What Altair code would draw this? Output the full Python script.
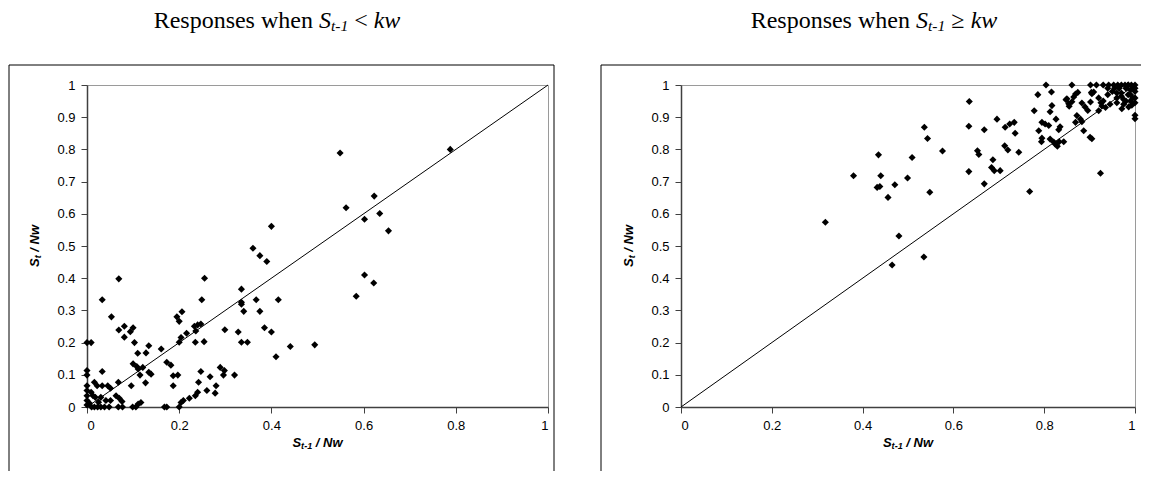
import altair as alt
import pandas as pd

# ---------------- data ----------------
left_x = [0.788, 0.549, 0.623, 0.562, 0.635, 0.602, 0.654, 0.602, 0.622, 0.584,
          0.400, 0.360, 0.375, 0.390, 0.255, 0.335, 0.249, 0.335, 0.335, 0.367,
          0.415, 0.340, 0.375, 0.299, 0.328, 0.385, 0.400, 0.254, 0.335, 0.348,
          0.441, 0.494, 0.247, 0.410, 0.069, 0.033, 0.053, 0.195, 0.206, 0.200,
          0.069, 0.081, 0.094, 0.100, 0.081, 0.233, 0.240, 0.236, 0.216, 0.204,
          0.000, 0.009, 0.200, 0.235, 0.103, 0.110, 0.134, 0.121, 0.108, 0.111,
          0.100, 0.115, 0.128, 0.134, 0.139, 0.127, 0.161, 0.173, 0.182, 0.187,
          0.197, 0.187, 0.096, 0.033, 0.000, 0.000, 0.000, 0.000, 0.000, 0.000,
          0.000, 0.016, 0.022, 0.009, 0.013, 0.018, 0.033, 0.045, 0.051, 0.068,
          0.041, 0.051, 0.063, 0.070, 0.076, 0.016, 0.023, 0.030, 0.038, 0.048,
          0.068, 0.077, 0.099, 0.106, 0.117, 0.111, 0.168, 0.173, 0.200, 0.204,
          0.209, 0.222, 0.235, 0.240, 0.242, 0.247, 0.260, 0.267, 0.280, 0.278,
          0.289, 0.298, 0.296, 0.320, 0.005, 0.010, 0.025, 0.030]
left_y = [0.800, 0.789, 0.655, 0.619, 0.601, 0.583, 0.547, 0.410, 0.385, 0.344,
          0.561, 0.493, 0.470, 0.452, 0.400, 0.366, 0.333, 0.325, 0.319, 0.333,
          0.333, 0.297, 0.297, 0.240, 0.233, 0.246, 0.233, 0.203, 0.201, 0.201,
          0.188, 0.193, 0.258, 0.156, 0.398, 0.333, 0.280, 0.280, 0.296, 0.266,
          0.239, 0.251, 0.234, 0.246, 0.217, 0.251, 0.255, 0.236, 0.229, 0.216,
          0.200, 0.200, 0.201, 0.201, 0.200, 0.167, 0.190, 0.123, 0.126, 0.118,
          0.134, 0.099, 0.168, 0.108, 0.102, 0.075, 0.180, 0.139, 0.130, 0.097,
          0.099, 0.066, 0.066, 0.110, 0.113, 0.099, 0.066, 0.051, 0.035, 0.020,
          0.006, 0.077, 0.066, 0.046, 0.035, 0.030, 0.066, 0.066, 0.058, 0.077,
          0.020, 0.020, 0.035, 0.027, 0.017, 0.000, 0.000, 0.000, 0.000, 0.000,
          0.000, 0.000, 0.000, 0.000, 0.014, 0.009, 0.000, 0.000, 0.000, 0.014,
          0.020, 0.027, 0.035, 0.046, 0.077, 0.110, 0.051, 0.094, 0.066, 0.043,
          0.123, 0.113, 0.099, 0.099, 0.012, 0.000, 0.015, 0.030]

right_x = [0.318, 0.380, 0.435, 0.440, 0.432, 0.438, 0.456, 0.471, 0.499, 0.509,
           0.548, 0.536, 0.543, 0.576, 0.635, 0.634, 0.668, 0.696, 0.634, 0.653,
           0.656, 0.687, 0.684, 0.690, 0.703, 0.668, 0.714, 0.724, 0.734, 0.736,
           0.713, 0.720, 0.744, 0.768, 0.778, 0.786, 0.788, 0.794, 0.795, 0.795,
           0.802, 0.810, 0.804, 0.817, 0.813, 0.826, 0.813, 0.824, 0.833, 0.843,
           0.829, 0.832, 0.855, 0.861, 0.869, 0.874, 0.850, 0.861, 0.872, 0.880,
           0.883, 0.869, 0.887, 0.901, 0.924, 0.465, 0.535, 0.480,
           0.902, 0.915, 0.930, 0.942, 0.953, 0.962, 0.970, 0.978, 0.985, 0.992, 1.000,
           0.816, 0.904, 0.909, 0.905, 0.883, 0.890, 0.896, 0.902, 0.848, 0.854,
           0.865, 0.835, 0.821, 0.905, 0.971, 0.986, 0.993, 1.000, 1.000,
           0.920, 0.930, 0.940, 0.950, 0.960, 0.965, 0.970, 0.975, 0.980, 0.985,
           0.990, 0.995, 1.000, 1.000, 1.000, 0.990, 0.975, 0.960, 0.945, 0.935,
           0.925, 0.955, 0.940, 0.985, 0.995, 0.970, 0.980, 1.000, 0.990, 0.960,
           0.920, 0.927]
right_y = [0.574, 0.718, 0.783, 0.718, 0.682, 0.685, 0.651, 0.690, 0.711, 0.775,
           0.667, 0.869, 0.834, 0.795, 0.949, 0.872, 0.861, 0.894, 0.731, 0.796,
           0.784, 0.768, 0.744, 0.734, 0.734, 0.693, 0.869, 0.879, 0.884, 0.850,
           0.811, 0.798, 0.791, 0.669, 0.920, 0.970, 0.858, 0.824, 0.835, 0.884,
           0.879, 0.874, 1.000, 0.936, 0.917, 0.894, 0.832, 0.817, 0.824, 0.824,
           0.810, 0.861, 0.934, 0.948, 0.972, 0.977, 0.957, 1.000, 0.905, 0.894,
           0.886, 0.884, 0.858, 0.838, 0.726, 0.441, 0.466, 0.531,
           1.000, 1.000, 1.000, 1.000, 1.000, 1.000, 1.000, 1.000, 1.000, 1.000, 1.000,
           0.978, 0.977, 0.978, 0.973, 0.944, 0.932, 0.921, 0.947, 0.954, 0.942,
           0.963, 0.870, 0.823, 0.833, 0.926, 0.932, 0.937, 0.906, 0.895,
           0.960, 0.950, 0.970, 0.980, 0.960, 0.990, 0.975, 0.955, 0.990, 0.970,
           0.985, 0.960, 0.980, 0.960, 0.990, 0.950, 0.940, 0.945, 0.940, 0.930,
           0.945, 0.990, 0.990, 1.000, 0.995, 0.965, 0.950, 0.945, 0.970, 0.975,
           0.920, 0.935]

diag_x = [0, 1]
diag_y = [0, 1]

x_ticks = [0, 0.2, 0.4, 0.6, 0.8, 1]
y_ticks = [0, 0.1, 0.2, 0.3, 0.4, 0.5, 0.6, 0.7, 0.8, 0.9, 1]

AX = "#404040"
SANS = "Liberation Sans"
SERIF = "Liberation Serif"
one = alt.Data(values=[{}])


def txt(s, x, y, font, size, style="normal", weight="normal", align="left", angle=0):
    kw = dict(text=s, font=font, fontSize=size, fontStyle=style, fontWeight=weight,
              align=align, baseline="middle", color="black")
    if angle:
        kw["angle"] = angle
    return alt.Chart(one).mark_text(**kw).encode(x=alt.value(x), y=alt.value(y))


def title_parts(cx, cy, rel, fs=24):
    # "Responses when S_{t-1} < kw" built from pieces
    sub = fs * 0.65
    w_main = 6.638 * fs
    w_sp = 0.25 * fs
    w_S = 0.5 * fs
    w_sub = 1.111 * sub
    w_rel = 0.56 * fs
    w_kw = 1.111 * fs
    total = w_main + w_sp + w_S + w_sub + w_sp + w_rel + w_sp + w_kw
    x0 = cx - total / 2
    parts = []
    parts.append(txt("Responses when", x0, cy, SERIF, fs))
    x = x0 + w_main + w_sp
    parts.append(txt("S", x, cy, SERIF, fs, style="italic"))
    x += w_S
    parts.append(txt("t-1", x, cy + fs * 0.22, SERIF, sub, style="italic"))
    x += w_sub + w_sp
    parts.append(txt(rel, x, cy, SERIF, fs))
    x += w_rel + w_sp
    parts.append(txt("kw", x, cy, SERIF, fs, style="italic"))
    return parts


def xtitle(cx, cy, fs=13):
    sub = fs * 0.7
    wS = 0.667 * fs
    wsub = 1.222 * sub
    wsp = 0.278 * fs
    wrest = 2.056 * fs
    total = wS + wsub + wsp + wrest
    x0 = cx - total / 2
    return [
        txt("S", x0, cy, SANS, fs, style="italic", weight="bold"),
        txt("t-1", x0 + wS, cy + fs * 0.25, SANS, sub, style="italic", weight="bold"),
        txt("/ Nw", x0 + wS + wsub + wsp, cy, SANS, fs, style="italic", weight="bold"),
    ]


def ytitle(cx, cy, fs=13):
    sub = fs * 0.7
    wS = 0.667 * fs
    wsub = 0.333 * sub
    wsp = 0.278 * fs
    wrest = 2.056 * fs
    total = wS + wsub + wsp + wrest
    y0 = cy + total / 2
    return [
        txt("S", cx, y0, SANS, fs, style="italic", weight="bold", angle=270),
        txt("t", cx + fs * 0.25, y0 - wS, SANS, sub, style="italic", weight="bold", angle=270),
        txt("/ Nw", cx, y0 - wS - wsub - wsp, SANS, fs, style="italic", weight="bold", angle=270),
    ]


def panel(xs, ys, width, height, rel, box_left, box_right, title_cx):
    df = pd.DataFrame({"x": xs, "y": ys})
    xsc = alt.Scale(domain=[0, 1], nice=False, zero=False)
    ysc = alt.Scale(domain=[0, 1], nice=False, zero=False)
    common = dict(format="~g", grid=False, title=None, labelOverlap=False,
                  domainColor=AX, domainWidth=1.5, tickColor=AX, tickSize=6,
                  labelFont=SANS, labelFontSize=13, labelColor="black", labelPadding=6)
    xax = alt.Axis(values=x_ticks, **common)
    yax = alt.Axis(values=y_ticks, **common)
    line_df = pd.DataFrame({"x": diag_x, "y": diag_y})
    diag = alt.Chart(line_df).mark_line(color="black", strokeWidth=1).encode(
        x=alt.X("x:Q", scale=xsc, axis=xax), y=alt.Y("y:Q", scale=ysc, axis=yax))
    pts = alt.Chart(df).mark_point(shape="diamond", filled=True, color="black",
                                   size=50, opacity=1).encode(
        x=alt.X("x:Q", scale=xsc, axis=xax), y=alt.Y("y:Q", scale=ysc, axis=yax))
    layers = [diag, pts]
    bottom = 386
    # chart-area border (left, top, optional right)
    layers.append(alt.Chart(one).mark_rule(color="black", strokeWidth=1).encode(
        x=alt.value(box_left), y=alt.value(-20), y2=alt.value(bottom)))
    top_right = box_right if box_right is not None else width + 6
    layers.append(alt.Chart(one).mark_rule(color="black", strokeWidth=1).encode(
        x=alt.value(box_left), x2=alt.value(top_right), y=alt.value(-20)))
    if box_right is not None:
        layers.append(alt.Chart(one).mark_rule(color="black", strokeWidth=1).encode(
            x=alt.value(box_right), y=alt.value(-20), y2=alt.value(bottom)))
    layers += title_parts(title_cx, -64, rel)
    layers += xtitle(width / 2, 36 + height)
    layers += ytitle(-52, height / 2)
    return alt.layer(*layers).properties(width=width, height=height)


left = panel(left_x, left_y, 461, 322, "<", -78, 467, 190)
right = panel(right_x, right_y, 454, 322, "\u2265", -80, None, 193)

chart = alt.hconcat(left, right, spacing=45).properties(padding=0).configure_view(
    stroke="#9a9a9a", strokeWidth=1
).configure_concat(spacing=45)

chart.save("out.html", embed_options={"renderer": "svg", "actions": False})
